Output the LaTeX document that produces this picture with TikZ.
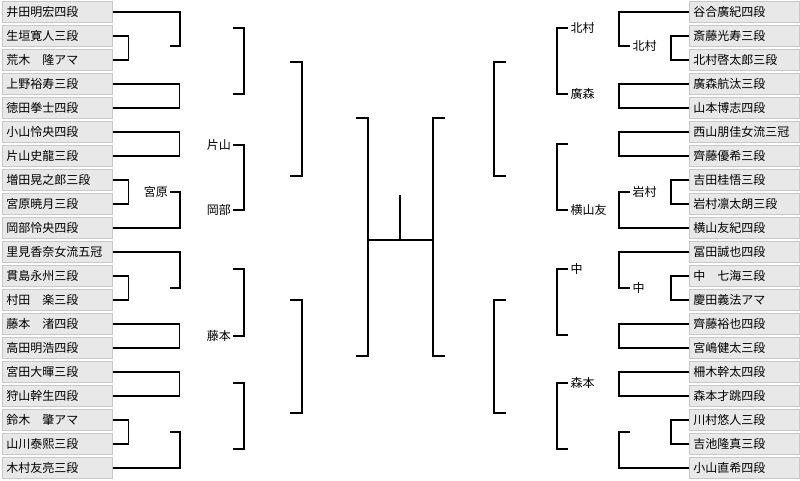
\documentclass[tikz,border=0pt]{standalone}
\usepackage{fontspec}
\newfontfamily\jp{Noto Sans CJK JP}
\definecolor{boxfill}{HTML}{E8E8E8}
\definecolor{boxline}{HTML}{C8C8C8}
\begin{document}
\begin{tikzpicture}[x=1pt,y=-1pt,
  pbox/.style={draw=boxline, fill=boxfill, line width=0.8pt, minimum width=110pt, minimum height=21pt, text width=102pt, inner sep=4pt, align=left, font=\jp\fontsize{12}{14}\selectfont, anchor=west},
  lblr/.style={inner sep=2pt, anchor=east, font=\jp\fontsize{12}{14}\selectfont},
  lbll/.style={inner sep=2.5pt, anchor=west, font=\jp\fontsize{12}{14}\selectfont},
  ln/.style={line width=1.1pt, black}]
\useasboundingbox (0,0) rectangle (800,480);
% ---------- left players ----------
\node[pbox] (L1) at (2,12) {井田明宏四段};
\node[pbox] (L2) at (2,36) {生垣寛人三段};
\node[pbox] (L3) at (2,60) {荒木　隆アマ};
\node[pbox] (L4) at (2,84) {上野裕寿三段};
\node[pbox] (L5) at (2,108) {徳田拳士四段};
\node[pbox] (L6) at (2,132) {小山怜央四段};
\node[pbox] (L7) at (2,156) {片山史龍三段};
\node[pbox] (L8) at (2,180) {増田晃之郎三段};
\node[pbox] (L9) at (2,204) {宮原暁月三段};
\node[pbox] (L10) at (2,228) {岡部怜央四段};
\node[pbox] (L11) at (2,252) {里見香奈女流五冠};
\node[pbox] (L12) at (2,276) {貫島永州三段};
\node[pbox] (L13) at (2,300) {村田　楽三段};
\node[pbox] (L14) at (2,324) {藤本　渚四段};
\node[pbox] (L15) at (2,348) {高田明浩四段};
\node[pbox] (L16) at (2,372) {宮田大暉三段};
\node[pbox] (L17) at (2,396) {狩山幹生四段};
\node[pbox] (L18) at (2,420) {鈴木　肇アマ};
\node[pbox] (L19) at (2,444) {山川泰熙三段};
\node[pbox] (L20) at (2,468) {木村友亮三段};
% ---------- right players ----------
\node[pbox] (R1) at (689,12) {谷合廣紀四段};
\node[pbox] (R2) at (689,36) {斎藤光寿三段};
\node[pbox] (R3) at (689,60) {北村啓太郎三段};
\node[pbox] (R4) at (689,84) {廣森航汰三段};
\node[pbox] (R5) at (689,108) {山本博志四段};
\node[pbox] (R6) at (689,132) {西山朋佳女流三冠};
\node[pbox] (R7) at (689,156) {齊藤優希三段};
\node[pbox] (R8) at (689,180) {吉田桂悟三段};
\node[pbox] (R9) at (689,204) {岩村凛太朗三段};
\node[pbox] (R10) at (689,228) {横山友紀四段};
\node[pbox] (R11) at (689,252) {冨田誠也四段};
\node[pbox] (R12) at (689,276) {中　七海三段};
\node[pbox] (R13) at (689,300) {慶田義法アマ};
\node[pbox] (R14) at (689,324) {齊藤裕也四段};
\node[pbox] (R15) at (689,348) {宮嶋健太三段};
\node[pbox] (R16) at (689,372) {柵木幹太四段};
\node[pbox] (R17) at (689,396) {森本才跳四段};
\node[pbox] (R18) at (689,420) {川村悠人三段};
\node[pbox] (R19) at (689,444) {吉池隆真三段};
\node[pbox] (R20) at (689,468) {小山直希四段};
% ---------- labels ----------
\node[lblr] (mLa) at (170,192) {宮原};
\node[lblr] (mLb) at (233,145) {片山};
\node[lblr] (mLc) at (233,210) {岡部};
\node[lblr] (mLd) at (233,336) {藤本};
\node[lbll] (mRa) at (630,46) {北村};
\node[lbll] (mRb) at (630,192) {岩村};
\node[lbll] (mRc) at (630,288) {中};
\node[lbll] (mRd) at (568,28) {北村};
\node[lbll] (mRe) at (568,94) {廣森};
\node[lbll] (mRf) at (568,210) {横山友};
\node[lbll] (mRg) at (568,269) {中};
\node[lbll] (mRh) at (568,383) {森本};
% ---------- free ends ----------
\coordinate (sL1) at (170,46);
\coordinate (sL11) at (170,288);
\coordinate (sL20) at (170,432);
\coordinate (sR20) at (630,432);
\coordinate (a1) at (233,28);  \coordinate (a2) at (233,94);
\coordinate (a3) at (233,269);
\coordinate (a4) at (233,383); \coordinate (a5) at (233,449);
\coordinate (b1) at (290,62);  \coordinate (b2) at (290,176);
\coordinate (b3) at (290,300); \coordinate (b4) at (290,413);
\coordinate (c1) at (356,118); \coordinate (c2) at (356,356);
\coordinate (d1) at (568,144);
\coordinate (d2) at (568,335);
\coordinate (d3) at (568,449);
\coordinate (e1) at (506,62);  \coordinate (e2) at (506,176);
\coordinate (e3) at (506,300); \coordinate (e4) at (506,413);
\coordinate (f1) at (445,118); \coordinate (f2) at (445,356);
\coordinate (hL) at (368,240); \coordinate (hR) at (433,240);
\coordinate (hT) at (400,195); \coordinate (hM) at (400,240);
% ---------- left round 1 ----------
\draw[ln] (L1.east) -| ([xshift=10pt]sL1) -- (sL1);
\draw[ln] (L2.east) -- ++(16,0) |- (L3.east);
\draw[ln] (L4.east) -- ++(67,0) |- (L5.east);
\draw[ln] (L6.east) -- ++(67,0) |- (L7.east);
\draw[ln] (L8.east) -- ++(16,0) |- (L9.east);
\draw[ln] (mLa.east) -- ++(10,0) |- (L10.east);
\draw[ln] (L11.east) -| ([xshift=10pt]sL11) -- (sL11);
\draw[ln] (L12.east) -- ++(16,0) |- (L13.east);
\draw[ln] (L14.east) -- ++(67,0) |- (L15.east);
\draw[ln] (L16.east) -- ++(67,0) |- (L17.east);
\draw[ln] (L18.east) -- ++(16,0) |- (L19.east);
\draw[ln] (sL20) -- ++(10,0) |- (L20.east);
% ---------- left round 2-4 ----------
\draw[ln] (a1) -- ++(11,0) |- (a2);
\draw[ln] (mLb.east) -- ++(11,0) |- (mLc.east);
\draw[ln] (a3) -- ++(11,0) |- (mLd.east);
\draw[ln] (a4) -- ++(11,0) |- (a5);
\draw[ln] (b1) -- ++(12,0) |- (b2);
\draw[ln] (b3) -- ++(12,0) |- (b4);
\draw[ln] (c1) -- ++(12,0) |- (c2);
% ---------- right round 1 ----------
\draw[ln] (R1.west) -| ([xshift=-11pt]mRa.west) -- (mRa.west);
\draw[ln] (R2.west) -- ++(-18,0) |- (R3.west);
\draw[ln] (R4.west) -- ++(-70,0) |- (R5.west);
\draw[ln] (R6.west) -- ++(-70,0) |- (R7.west);
\draw[ln] (R8.west) -- ++(-18,0) |- (R9.west);
\draw[ln] (mRb.west) -- ++(-11,0) |- (R10.west);
\draw[ln] (R11.west) -| ([xshift=-11pt]mRc.west) -- (mRc.west);
\draw[ln] (R12.west) -- ++(-18,0) |- (R13.west);
\draw[ln] (R14.west) -- ++(-70,0) |- (R15.west);
\draw[ln] (R16.west) -- ++(-70,0) |- (R17.west);
\draw[ln] (R18.west) -- ++(-18,0) |- (R19.west);
\draw[ln] (sR20) -- ++(-11,0) |- (R20.west);
% ---------- right round 2-4 ----------
\draw[ln] (mRd.west) -- ++(-11,0) |- (mRe.west);
\draw[ln] (d1) -- ++(-11,0) |- (mRf.west);
\draw[ln] (mRg.west) -- ++(-11,0) |- (d2);
\draw[ln] (mRh.west) -- ++(-11,0) |- (d3);
\draw[ln] (e1) -- ++(-12,0) |- (e2);
\draw[ln] (e3) -- ++(-12,0) |- (e4);
\draw[ln] (f1) -- ++(-12,0) |- (f2);
% ---------- final ----------
\draw[ln] (hL) -- (hR);
\draw[ln] (hT) -- (hM);
\end{tikzpicture}
\end{document}
